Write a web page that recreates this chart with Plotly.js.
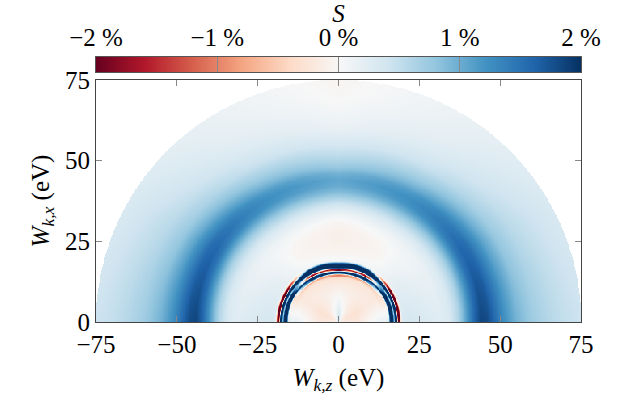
<!DOCTYPE html>
<html>
<head>
<meta charset="utf-8">
<script src="https://cdn.plot.ly/plotly-3.0.1.min.js"></script>
<style>html,body{margin:0;padding:0;background:#fff}#chart{width:630px;height:401px}</style>
</head>
<body>
<div id="chart"></div>
<script>
// Radial sample positions (eV) and S (%) read along four directions (angle from the W_k,z axis)
const radii = [0, 1, 2, 4, 6, 8, 10, 12, 13.6,
  14.0, 14.4, 14.8, 15.2, 15.6, 16.0, 16.4, 16.8, 17.2, 17.6, 18.0, 18.4, 18.8, 19.2, 19.6,
  20.5, 22, 25, 28, 31, 34, 37, 40, 42, 44, 46, 48, 51, 55, 60, 65, 70, 75];
const angles = [0, 30, 60, 90];
const S_0deg  = [0.1, -0.05, -0.15, -0.2, -0.2, -0.1, 0.0, 0.1, 0.15,
  0.15, 0.15, 0.2, 0.2, 0.4, 2.3, 2.5, 2.3, 0.7, 2.5, 2.5, -2.3, -2.5, -0.5, 0.3,
  0.35, 0.35, 0.33, 0.3, 0.25, 0.3, 0.6, 1.2, 1.6, 1.85, 1.8, 1.6, 1.25, 0.95, 0.72, 0.58, 0.48, 0.42];
const S_30deg = [0.1, -0.15, -0.25, -0.3, -0.3, -0.25, -0.2, -0.2, -0.2,
  -0.3, -0.3, -0.3, -0.3, -0.5, 2.3, 2.5, 2.3, 0.3, 2.5, 2.5, -2.2, -2.5, -0.3, 0.2,
  0.22, 0.22, 0.18, 0.14, 0.15, 0.3, 0.6, 1.1, 1.45, 1.6, 1.55, 1.35, 1.05, 0.75, 0.55, 0.45, 0.37, 0.3];
const S_60deg = [0.2, 0.05, -0.05, -0.1, -0.15, -0.15, -0.15, -0.2, -0.25,
  -0.3, -0.5, -0.9, 1.5, 2.5, 2.2, -2.0, -1.5, 2.3, 2.5, 2.5, 2.5, 0.8, 0.05, 0.05,
  0.02, -0.03, -0.05, -0.02, 0.08, 0.28, 0.6, 1.0, 1.2, 1.25, 1.15, 0.95, 0.7, 0.45, 0.3, 0.2, 0.15, 0.12];
const S_90deg = [0.8, 0.5, 0.35, 0.2, 0.1, 0.0, -0.1, -0.2, -0.3,
  -0.5, -1.2, -0.6, 2.5, 2.3, -2.2, -1.8, 2.4, 2.5, 2.5, 2.5, 1.0, 0.0, 0.0, 0.0,
  -0.02, -0.08, -0.12, -0.12, -0.05, 0.15, 0.45, 0.85, 1.0, 1.05, 0.95, 0.75, 0.55, 0.35, 0.15, 0.05, -0.02, -0.05];
const profiles = [S_0deg, S_30deg, S_60deg, S_90deg];

// Colour bar values / tick labels, axis ticks
const cbTickVals = [-2, -1, 0, 1, 2];
const cbTickText = ['\u22122 %', '\u22121 %', '0 %', '1 %', '2 %'];
const xTickVals = [-75, -50, -25, 0, 25, 50, 75];
const yTickVals = [0, 25, 50, 75];

function interp1(xa, ya, x) {
  if (x <= xa[0]) return ya[0];
  for (let i = 1; i < xa.length; i++) {
    if (x <= xa[i]) {
      const t = (x - xa[i-1]) / (xa[i] - xa[i-1]);
      return ya[i-1] + t * (ya[i] - ya[i-1]);
    }
  }
  return ya[ya.length - 1];
}
function fieldAt(r, th) {
  const vals = profiles.map(p => interp1(radii, p, r));
  return interp1(angles, vals, th);
}

const step = 0.25, Rmax = 75;
const xs = [], ys = [];
for (let i = 0; i <= 600; i++) xs.push(-75 + i * step);
for (let j = 0; j <= 300; j++) ys.push(j * step);
const z = ys.map(y => xs.map(x => {
  const r = Math.hypot(x, y);
  if (r > Rmax) return null;
  const th = Math.atan2(y, Math.abs(x)) * 180 / Math.PI;
  return fieldAt(r, th);
}));

const colorscale = [
  [0.0, '#67001f'], [0.1, '#b2182b'], [0.2, '#d6604d'], [0.3, '#f4a582'], [0.4, '#fddbc7'],
  [0.5, '#f7f7f7'], [0.6, '#d1e5f0'], [0.7, '#92c5de'], [0.8, '#4393c3'], [0.9, '#2166ac'], [1.0, '#053061']
];

const font = {family: 'Liberation Serif, Times New Roman, serif', size: 25, color: '#000'};

const field = {
  type: 'heatmap', x: xs, y: ys, z: z, zmin: -2, zmax: 2, zsmooth: false,
  colorscale: colorscale, showscale: false, hoverinfo: 'skip', xaxis: 'x', yaxis: 'y'
};
const colorStrip = {
  type: 'heatmap', x: cbTickVals, z: [cbTickVals], zmin: -2, zmax: 2, zsmooth: 'best',
  colorscale: colorscale, showscale: false, hoverinfo: 'skip', xaxis: 'x2', yaxis: 'y2'
};

const layout = {
  width: 630, height: 401,
  margin: {l: 96, r: 49, t: 57, b: 79},
  paper_bgcolor: '#fff', plot_bgcolor: '#fff',
  font: font, showlegend: false,
  xaxis: {
    domain: [0, 1], anchor: 'y', range: [-75, 75], tickvals: xTickVals,
    ticks: 'inside', ticklen: 6, tickcolor: '#888', tickwidth: 1,
    showline: true, linecolor: '#444', linewidth: 1, mirror: 'ticks',
    showgrid: false, zeroline: false, tickfont: font,
    title: {text: '<i>W</i><sub><i>k,z</i></sub> (eV)', font: font, standoff: 11}
  },
  yaxis: {
    domain: [0, 0.9132], anchor: 'x', range: [0, 75], tickvals: yTickVals,
    ticks: 'inside', ticklen: 6, tickcolor: '#888', tickwidth: 1,
    showline: true, linecolor: '#444', linewidth: 1, mirror: 'ticks',
    showgrid: false, zeroline: false, tickfont: font,
    title: {text: '<i>W</i><sub><i>k,x</i></sub> (eV)', font: font, standoff: 8}
  },
  xaxis2: {
    domain: [0, 1], anchor: 'y2', side: 'top', range: [-2, 2],
    tickvals: cbTickVals, ticktext: cbTickText,
    ticks: 'inside', ticklen: 15, tickcolor: '#888', tickwidth: 1.2,
    showline: true, linecolor: '#555', linewidth: 1, mirror: true,
    showgrid: false, zeroline: false, tickfont: font, fixedrange: true,
    title: {text: '<i>S</i>', font: font, standoff: 4}
  },
  yaxis2: {
    domain: [0.9434, 1], anchor: 'x2', range: [-0.5, 0.5], fixedrange: true,
    showticklabels: false, ticks: '', showgrid: false, zeroline: false,
    showline: true, linecolor: '#555', linewidth: 1, mirror: true
  }
};

Plotly.newPlot('chart', [field, colorStrip], layout, {staticPlot: true, displayModeBar: false});
</script>
</body>
</html>
